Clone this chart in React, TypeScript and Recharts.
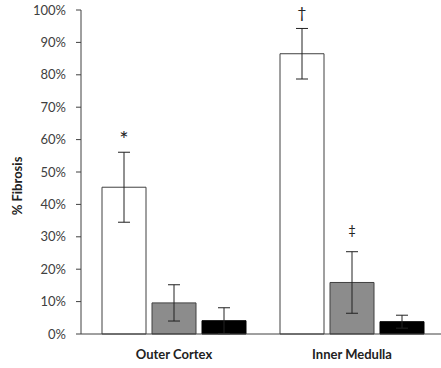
import React from 'react'
import {
  BarChart,
  Bar,
  XAxis,
  YAxis,
  ErrorBar,
  LabelList,
  Label,
} from 'recharts'

const regions = ['Outer Cortex', 'Inner Medulla']
const whiteValues = [45.3, 86.5]
const whiteErrors = [10.8, 7.8]
const grayValues = [9.6, 15.9]
const grayErrors = [5.6, 9.5]
const blackValues = [4.1, 3.8]
const blackErrors = [4.0, 2.0]
const whiteMarks = ['*', '†']
const grayMarks = ['', '‡']
const yTicks = [0, 10, 20, 30, 40, 50, 60, 70, 80, 90, 100]

const chartData = regions.map((name, i) => ({
  name,
  white: whiteValues[i],
  whiteErr: whiteErrors[i],
  whiteMark: whiteMarks[i],
  gray: grayValues[i],
  grayErr: grayErrors[i],
  grayMark: grayMarks[i],
  black: blackValues[i],
  blackErr: blackErrors[i],
}))

const FONT = 'Lato, "DejaVu Sans", sans-serif'

// glyph size / gap above the error bar for each mark
const markStyle: Record<string, { size: number; gap: number }> = {
  '*': { size: 22, gap: 5 },
  '†': { size: 16, gap: 10 },
  '‡': { size: 13, gap: 17 },
}

// puts the significance mark just above the top of the error bar
const markLabel = (values: number[], errors: number[]) => (props: any) => {
  const { x, y, width, height, value, index } = props
  if (!value) return null
  const v = values[index]
  const pxPerUnit = v ? height / v : 0
  const errTop = y - errors[index] * pxPerUnit
  const st = markStyle[value] || { size: 16, gap: 10 }
  return (
    <text
      x={x + width / 2}
      y={errTop - st.gap}
      textAnchor="middle"
      fontFamily={FONT}
      fontSize={st.size}
      fill="#222"
    >
      {value}
    </text>
  )
}

const yLabel = () => (
  <text
    x={17}
    y={186}
    transform="rotate(-90 17 186)"
    textAnchor="middle"
    dominantBaseline="central"
    fontFamily={FONT}
    fontWeight="bold"
    fontSize={13}
    fill="#222"
  >
    % Fibrosis
  </text>
)

export default function App() {
  return (
    <div style={{ position: 'absolute', left: 0, top: 0, background: '#fff' }}>
      <BarChart
        width={441}
        height={368}
        data={chartData}
        margin={{ top: 10, right: 0, left: 0, bottom: 4 }}
        barGap={6}
        barSize={44}
      >
        <XAxis
          dataKey="name"
          height={30}
          padding={{ left: 4, right: 0 }}
          tickLine={false}
          axisLine={{ stroke: '#404040' }}
          tick={{ fontFamily: FONT, fontSize: 13, fontWeight: 'bold', fill: '#222' }}
          tickMargin={10}
        />
        <YAxis
          width={81}
          domain={[0, 100]}
          ticks={yTicks}
          interval={0}
          tickFormatter={(v: number) => `${v}%`}
          tickSize={5}
          tickMargin={10}
          tickLine={{ stroke: '#404040' }}
          axisLine={{ stroke: '#404040' }}
          tick={{ fontFamily: FONT, fontSize: 13, fill: '#404040' }}
        >
          <Label content={yLabel} />
        </YAxis>
        <Bar dataKey="white" fill="#ffffff" stroke="#404040" strokeWidth={1} isAnimationActive={false}>
          <ErrorBar dataKey="whiteErr" width={6} stroke="#222" strokeWidth={1} />
          <LabelList dataKey="whiteMark" content={markLabel(whiteValues, whiteErrors)} />
        </Bar>
        <Bar dataKey="gray" fill="#8c8c8c" stroke="#404040" strokeWidth={1} isAnimationActive={false}>
          <ErrorBar dataKey="grayErr" width={6} stroke="#222" strokeWidth={1} />
          <LabelList dataKey="grayMark" content={markLabel(grayValues, grayErrors)} />
        </Bar>
        <Bar dataKey="black" fill="#000000" stroke="#000000" strokeWidth={1} isAnimationActive={false}>
          <ErrorBar dataKey="blackErr" width={6} stroke="#222" strokeWidth={1} />
        </Bar>
      </BarChart>
    </div>
  )
}
